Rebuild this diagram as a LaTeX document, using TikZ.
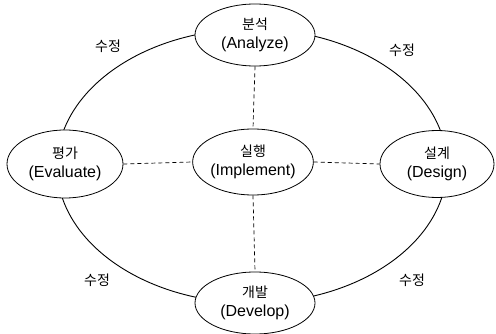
\documentclass[tikz,border=0pt]{standalone}
\usepackage{fontspec}
\setmainfont{Liberation Sans}
\newfontfamily\kr{Noto Sans CJK KR}
\usetikzlibrary{shapes.geometric}
\tikzset{
  stage/.style={ellipse, draw, fill=white, line width=0.8pt, inner sep=0pt,
    minimum width=#1, align=center, font=\fontsize{16}{19}\selectfont},
  stage/.default=116pt,
  link/.style={dashed, line width=0.7pt, dash pattern=on 4pt off 3pt},
  ring/.style={line width=0.9pt},
  lbl/.style={font=\kr\fontsize{14}{16}\selectfont}
}
\begin{document}
\begin{tikzpicture}[x=1pt,y=-1pt]
\useasboundingbox (0,0) rectangle (496,334);
\coordinate (rc) at (252,166);
\draw[ring] (rc) ellipse [x radius=195pt, y radius=137pt];
\node[stage, minimum height=62pt, minimum width=120pt] (an) at (255,35) {{\kr\fontsize{14}{16}\selectfont 분석}\\(Analyze)};
\node[stage, minimum height=68pt] (ev) at (65,164) {{\kr\fontsize{14}{16}\selectfont 평가}\\(Evaluate)};
\node[stage, minimum height=66pt] (im) at (253,162) {{\kr\fontsize{14}{16}\selectfont 실행}\\(Implement)};
\node[stage, minimum height=67pt, minimum width=114pt] (de) at (437,164) {{\kr\fontsize{14}{16}\selectfont 설계}\\(Design)};
\node[stage, minimum height=62pt, minimum width=120pt] (dv) at (255,303) {{\kr\fontsize{14}{16}\selectfont 개발}\\(Develop)};
\draw[link] (an.south) -- (im.north);
\draw[link] (im.south) -- (dv.north);
\draw[link] (ev.east) -- (im.west);
\draw[link] (im.east) -- (de.west);
\node[lbl] (l1) at (108,46) {수정};
\node[lbl] (l2) at (402,50) {수정};
\node[lbl] (l3) at (97,280) {수정};
\node[lbl] (l4) at (412,280) {수정};
\end{tikzpicture}
\end{document}
